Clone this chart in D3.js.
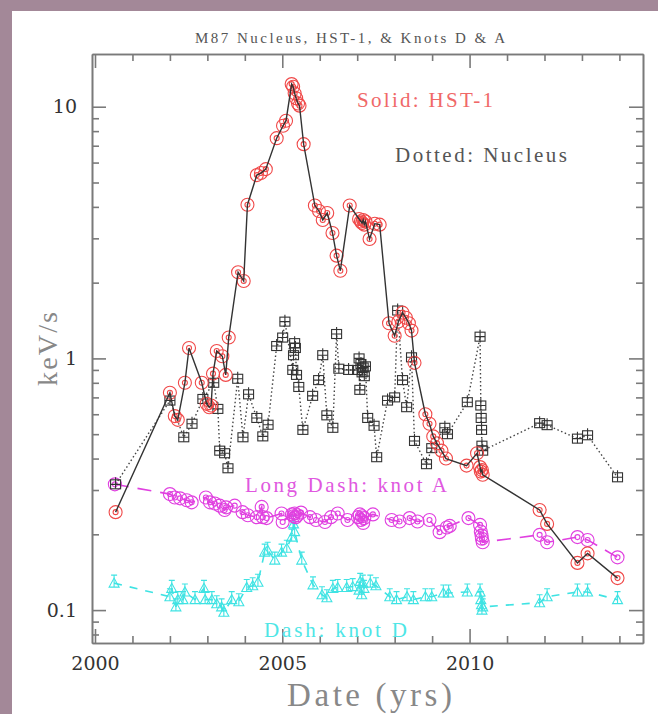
<!DOCTYPE html>
<html>
<head>
<meta charset="utf-8">
<script src="https://cdn.jsdelivr.net/npm/d3@7"></script>
<style>
  html, body { margin: 0; padding: 0; background: #a38898; }
  svg { display: block; }
</style>
</head>
<body>
<svg id="chart" width="658" height="714"></svg>
<script>
// [date (yr), rate (keV/s)]
const hst1 = [
    [2000.55, 0.245], [2002.00, 0.73], [2002.13, 0.59], [2002.21, 0.57], [2002.40, 0.80],
    [2002.51, 1.10], [2002.85, 0.80], [2002.98, 0.66], [2003.05, 0.64], [2003.10, 0.65],
    [2003.15, 0.87], [2003.25, 1.07], [2003.40, 1.02], [2003.49, 0.86], [2003.57, 1.21],
    [2003.82, 2.20], [2003.97, 2.03], [2004.07, 4.08], [2004.32, 5.35], [2004.43, 5.45],
    [2004.56, 5.65], [2004.85, 7.5], [2005.02, 8.4], [2005.10, 8.8], [2005.25, 12.3],
    [2005.29, 12.0], [2005.33, 11.3], [2005.37, 10.8], [2005.42, 10.3], [2005.46, 10.1],
    [2005.57, 7.1], [2005.87, 4.05], [2005.98, 3.85], [2006.08, 3.55], [2006.20, 3.78],
    [2006.34, 3.15], [2006.45, 2.56], [2006.55, 2.23], [2006.80, 4.05], [2007.05, 3.58],
    [2007.10, 3.50], [2007.13, 3.45], [2007.16, 3.55], [2007.19, 3.40], [2007.22, 3.50],
    [2007.33, 2.98], [2007.47, 3.43], [2007.60, 3.40], [2007.85, 1.38], [2008.00, 1.23],
    [2008.10, 1.40], [2008.21, 1.52], [2008.30, 1.45], [2008.38, 1.38], [2008.45, 1.29],
    [2008.53, 0.96], [2008.82, 0.60], [2008.93, 0.55], [2009.03, 0.49], [2009.13, 0.46],
    [2009.25, 0.43], [2009.37, 0.40], [2009.92, 0.375], [2010.20, 0.42], [2010.28, 0.37],
    [2010.30, 0.355], [2010.33, 0.36], [2010.35, 0.345], [2011.87, 0.25], [2012.07, 0.22],
    [2012.88, 0.154], [2013.15, 0.168], [2013.95, 0.134]
];

const nucleus = [
    [2000.55, 0.316], [2002.00, 0.68], [2002.37, 0.486], [2002.59, 0.55], [2002.88, 0.69],
    [2003.17, 0.80], [2003.28, 0.63], [2003.33, 0.43], [2003.46, 0.42], [2003.55, 0.366],
    [2003.81, 0.83], [2003.95, 0.486], [2004.10, 0.72], [2004.32, 0.58], [2004.48, 0.49],
    [2004.62, 0.545], [2004.85, 1.12], [2005.01, 1.21], [2005.07, 1.40], [2005.28, 0.90],
    [2005.30, 1.03], [2005.33, 1.15], [2005.35, 1.10], [2005.38, 0.86], [2005.44, 0.77],
    [2005.55, 0.52], [2005.81, 0.71], [2005.97, 0.82], [2006.08, 1.03], [2006.19, 0.594],
    [2006.35, 0.53], [2006.45, 1.25], [2006.51, 0.91], [2006.77, 0.90], [2007.01, 0.90],
    [2007.05, 1.0], [2007.07, 0.75], [2007.10, 0.95], [2007.13, 0.88], [2007.16, 0.92],
    [2007.19, 0.85], [2007.22, 0.93], [2007.28, 0.58], [2007.45, 0.54], [2007.52, 0.405],
    [2007.81, 0.68], [2008.00, 0.70], [2008.08, 1.55], [2008.21, 0.82], [2008.32, 0.64],
    [2008.45, 1.01], [2008.53, 0.47], [2008.85, 0.38], [2008.99, 0.44], [2009.34, 0.53],
    [2009.41, 0.50], [2009.94, 0.67], [2010.28, 1.22], [2010.30, 0.65], [2010.31, 0.58],
    [2010.32, 0.52], [2010.33, 0.45], [2010.35, 0.43], [2011.87, 0.553], [2012.07, 0.543],
    [2012.88, 0.48], [2013.15, 0.495], [2013.95, 0.337]
];

const knotA = [
    [2000.53, 0.316], [2002.00, 0.289], [2002.13, 0.28], [2002.27, 0.278], [2002.45, 0.273],
    [2002.58, 0.268], [2002.96, 0.28], [2003.07, 0.268], [2003.20, 0.265], [2003.33, 0.26],
    [2003.46, 0.25], [2003.50, 0.256], [2003.73, 0.26], [2003.94, 0.245], [2004.08, 0.238],
    [2004.32, 0.234], [2004.45, 0.257], [2004.48, 0.234], [2004.58, 0.232], [2004.98, 0.242],
    [2005.01, 0.224], [2005.26, 0.24], [2005.30, 0.236], [2005.33, 0.242], [2005.36, 0.234],
    [2005.40, 0.238], [2005.50, 0.244], [2005.74, 0.234], [2005.90, 0.228], [2006.14, 0.224],
    [2006.30, 0.234], [2006.48, 0.242], [2006.74, 0.228], [2007.02, 0.234], [2007.07, 0.24],
    [2007.10, 0.228], [2007.13, 0.236], [2007.16, 0.222], [2007.19, 0.232], [2007.42, 0.24],
    [2007.92, 0.228], [2008.13, 0.225], [2008.40, 0.232], [2008.61, 0.225], [2008.93, 0.228],
    [2009.20, 0.204], [2009.39, 0.213], [2009.47, 0.216], [2009.97, 0.232], [2010.28, 0.218],
    [2010.30, 0.205], [2010.32, 0.198], [2010.33, 0.192], [2010.35, 0.186], [2011.87, 0.199],
    [2012.07, 0.186], [2012.88, 0.195], [2013.15, 0.19], [2013.95, 0.162]
];

const knotD = [
    [2000.51, 0.128], [2002.00, 0.113], [2002.05, 0.122], [2002.16, 0.103], [2002.21, 0.11],
    [2002.35, 0.11], [2002.40, 0.118], [2002.67, 0.11], [2002.91, 0.122], [2002.94, 0.11],
    [2003.12, 0.11], [2003.25, 0.106], [2003.38, 0.103], [2003.44, 0.098], [2003.65, 0.11],
    [2003.84, 0.108], [2004.05, 0.123], [2004.21, 0.125], [2004.35, 0.129], [2004.53, 0.17],
    [2004.61, 0.173], [2004.80, 0.158], [2004.98, 0.17], [2005.12, 0.176], [2005.25, 0.195],
    [2005.30, 0.22], [2005.33, 0.205], [2005.52, 0.158], [2005.82, 0.126], [2006.06, 0.115],
    [2006.19, 0.112], [2006.35, 0.122], [2006.48, 0.123], [2006.72, 0.123], [2006.88, 0.124],
    [2007.05, 0.12], [2007.08, 0.13], [2007.12, 0.115], [2007.15, 0.128], [2007.18, 0.122],
    [2007.35, 0.128], [2007.50, 0.125], [2007.87, 0.113], [2008.05, 0.11], [2008.33, 0.113],
    [2008.50, 0.11], [2008.82, 0.113], [2008.99, 0.113], [2009.30, 0.117], [2009.44, 0.117],
    [2009.94, 0.118], [2010.28, 0.118], [2010.30, 0.11], [2010.32, 0.105], [2010.33, 0.10],
    [2010.35, 0.103], [2011.87, 0.107], [2012.07, 0.113], [2012.88, 0.118], [2013.15, 0.118],
    [2013.95, 0.11]
];

const yearTicks = [2000, 2005, 2010];
const yearMinor = [2001, 2002, 2003, 2004, 2006, 2007, 2008, 2009, 2011, 2012, 2013, 2014];
const rateTicks = [0.1, 1, 10];
const rateMinor = [0.08, 0.09, 0.2, 0.3, 0.4, 0.5, 0.6, 0.7, 0.8, 0.9, 2, 3, 4, 5, 6, 7, 8, 9];

const svg = d3.select('#chart');

// white sheet on the mauve background
svg.append('rect')
    .attr('x', 12).attr('y', 11)
    .attr('width', 646).attr('height', 703)
    .attr('fill', '#fff');

const x = d3.scaleLinear().domain([1999.92, 2014.63]).range([92, 643]);
const y = d3.scaleLog().domain([0.074, 16.2]).range([643, 54]);

const frame = '#7a7a7a';

function styleAxis(g) {
    g.selectAll('path, line').attr('stroke', frame).attr('stroke-width', 1.6);
    g.selectAll('text')
        .attr('fill', '#333')
        .style('font-family', '"DejaVu Serif", serif')
        .style('font-size', '19px');
}

// inward ticks on all four sides
const axes = [
    [d3.axisBottom, x, 'translate(0,643)', true],
    [d3.axisTop, x, 'translate(0,54)', false],
    [d3.axisLeft, y, 'translate(92,0)', true],
    [d3.axisRight, y, 'translate(643,0)', false]
];
axes.forEach(([axisFn, scale, tr, labels]) => {
    const isX = scale === x;
    const major = axisFn(scale)
        .tickValues(isX ? yearTicks : rateTicks)
        .tickSize(-14).tickSizeOuter(0)
        .tickPadding(isX ? 14 : 15)
        .tickFormat(labels ? (isX ? d3.format('d') : d => String(d)) : () => '');
    const minor = axisFn(scale)
        .tickValues(isX ? yearMinor : rateMinor)
        .tickSize(-7).tickSizeOuter(0)
        .tickFormat(() => '');
    svg.append('g').attr('transform', tr).call(minor).call(styleAxis);
    svg.append('g').attr('transform', tr).call(major).call(styleAxis);
});

const line = d3.line().x(d => x(d[0])).y(d => y(d[1]));

// connecting lines
svg.append('path').datum(knotD)
    .attr('d', line).attr('fill', 'none')
    .attr('stroke', '#3fe3e3').attr('stroke-width', 1.6)
    .attr('stroke-dasharray', '8,8');
svg.append('path').datum(knotA)
    .attr('d', line).attr('fill', 'none')
    .attr('stroke', '#e040e0').attr('stroke-width', 1.6)
    .attr('stroke-dasharray', '14,9');
svg.append('path').datum(nucleus)
    .attr('d', line).attr('fill', 'none')
    .attr('stroke', '#444').attr('stroke-width', 1.4)
    .attr('stroke-dasharray', '1.5,2.5');

function markers(data, color) {
    return svg.append('g')
        .attr('fill', 'none').attr('stroke', color).attr('stroke-width', 1.1)
        .selectAll('g').data(data).enter().append('g')
            .attr('transform', d => `translate(${x(d[0])},${y(d[1])})`);
}

// knot D: triangles with error bar
const tri = markers(knotD, '#3fe3e3');
tri.append('path').attr('d', 'M-5,4L5,4L0,-5Z');
tri.append('path').attr('d', 'M0,-8V4M-3,-8H3');

// knot A: circles
const circA = markers(knotA, '#e040e0');
circA.append('circle').attr('r', 6.5);
circA.append('circle').attr('r', 2.5);

// nucleus: boxes with error bar
const box = markers(nucleus, '#333');
box.append('rect').attr('x', -5).attr('y', -4.5).attr('width', 10).attr('height', 9);
box.append('path').attr('d', 'M-5,0H5M0,-7V4.5');

// HST-1: circles
const circH = markers(hst1, '#f04848');
circH.append('circle').attr('r', 6.5);
circH.append('circle').attr('r', 2.5);

svg.append('path').datum(hst1)
    .attr('d', line).attr('fill', 'none')
    .attr('stroke', '#333').attr('stroke-width', 1.4);

// labels
const serif = '"Liberation Serif", serif';
function label(txt, px, py, size, color, len) {
    return svg.append('text')
        .attr('x', px).attr('y', py)
        .attr('fill', color)
        .attr('textLength', len).attr('lengthAdjust', 'spacing')
        .style('font-family', serif)
        .style('font-size', size + 'px')
        .text(txt);
}

label('M87 Nucleus, HST-1, & Knots D & A', 195, 43, 15, '#555', 310);
label('Solid: HST-1', 357, 107, 21, '#f06868', 136);
label('Dotted: Nucleus', 395, 162, 21, '#555', 172);
label('Long Dash: knot A', 245, 492, 21, '#e058e0', 202);
label('Dash: knot D', 264, 637, 21, '#4ee6e6', 143);
label('Date (yrs)', 287, 706, 33, '#888', 165);

svg.append('text')
    .attr('transform', 'translate(57,349) rotate(-90)')
    .attr('text-anchor', 'middle')
    .attr('fill', '#888')
    .attr('textLength', 74).attr('lengthAdjust', 'spacing')
    .style('font-family', serif)
    .style('font-size', '28px')
    .text('keV/s');
</script>
</body>
</html>
